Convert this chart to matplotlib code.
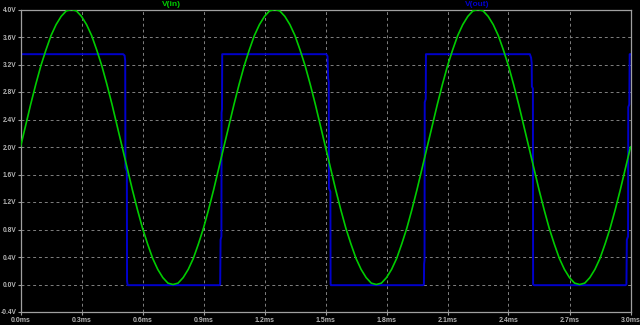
# LTspice style transient plot: V(in) sine and V(out) comparator output
import matplotlib.pyplot as plt
import numpy as np

# V(in) sampled every 0.025 ms from 0 to 3.0 ms
vin_step_ms = 0.025
vin = [2.00, 2.31, 2.62, 2.91, 3.18, 3.41, 3.62, 3.78, 3.90, 3.98,
       4.00, 3.98, 3.90, 3.78, 3.62, 3.41, 3.18, 2.91, 2.62, 2.31,
       2.00, 1.69, 1.38, 1.09, 0.82, 0.59, 0.38, 0.22, 0.10, 0.02,
       0.00, 0.02, 0.10, 0.22, 0.38, 0.59, 0.82, 1.09, 1.38, 1.69,
       2.00, 2.31, 2.62, 2.91, 3.18, 3.41, 3.62, 3.78, 3.90, 3.98,
       4.00, 3.98, 3.90, 3.78, 3.62, 3.41, 3.18, 2.91, 2.62, 2.31,
       2.00, 1.69, 1.38, 1.09, 0.82, 0.59, 0.38, 0.22, 0.10, 0.02,
       0.00, 0.02, 0.10, 0.22, 0.38, 0.59, 0.82, 1.09, 1.38, 1.69,
       2.00, 2.31, 2.62, 2.91, 3.18, 3.41, 3.62, 3.78, 3.90, 3.98,
       4.00, 3.98, 3.90, 3.78, 3.62, 3.41, 3.18, 2.91, 2.62, 2.31,
       2.00, 1.69, 1.38, 1.09, 0.82, 0.59, 0.38, 0.22, 0.10, 0.02,
       0.00, 0.02, 0.10, 0.22, 0.38, 0.59, 0.82, 1.09, 1.38, 1.69,
       2.00]

# V(out) breakpoints (time in ms, volts)
vout_t = [0.000,
          0.505, 0.512, 0.515, 0.516, 0.523, 0.524, 0.527,
          0.978, 0.982, 0.984, 0.988, 0.989, 0.991, 0.992,
          1.504, 1.510, 1.513, 1.516, 1.517, 1.524, 1.525, 1.527,
          1.980, 1.984, 1.985, 1.987, 1.988, 1.993, 1.994,
          2.505, 2.511, 2.514, 2.515, 2.520, 2.521, 2.526,
          2.975, 2.980, 2.982, 2.988, 2.989, 2.994, 2.996, 3.000]
vout = [3.35,
        3.35, 3.33, 3.25, 1.70, 1.65, 0.05, -0.01,
        -0.01, 0.00, 0.65, 0.70, 2.50, 2.55, 3.35,
        3.35, 3.32, 3.00, 2.95, 1.40, 1.35, 0.00, -0.01,
        -0.01, 0.00, 0.30, 0.35, 2.65, 2.70, 3.35,
        3.35, 3.30, 3.22, 2.88, 2.85, 0.00, -0.01,
        -0.01, 0.00, 0.65, 0.70, 2.58, 2.62, 3.35, 3.35]

y_ticks = [-0.4, 0.0, 0.4, 0.8, 1.2, 1.6, 2.0, 2.4, 2.8, 3.2, 3.6, 4.0]
x_ticks = [0.0, 0.3, 0.6, 0.9, 1.2, 1.5, 1.8, 2.1, 2.4, 2.7, 3.0]

GREEN = '#00cc00'
BLUE = '#0000cc'
GREY = '#a0a0a0'
FONT = 'Liberation Sans'

fig = plt.figure(figsize=(6.4, 3.25), dpi=100, facecolor='black')
ax = fig.add_axes([20.5 / 640, 1 - 312 / 325, 610 / 640, (312 - 9.5) / 325])
ax.set_facecolor('black')

vin_t = np.arange(len(vin)) * vin_step_ms
ax.plot(vin_t, vin, color=GREEN, lw=1.2, zorder=3)
ax.plot(vout_t, vout, color=BLUE, lw=1.4, zorder=2)

ax.set_xlim(0, 3.0)
ax.set_ylim(-0.4, 4.0)
ax.set_xticks(x_ticks)
ax.set_yticks(y_ticks)
ax.set_xticklabels(['%.1fms' % t for t in x_ticks])
ax.set_yticklabels(['%.1fV' % v for v in y_ticks])
ax.tick_params(colors=GREY, length=2.5, width=0.8)
ax.tick_params(axis='x', pad=1.2, labelsize=5)
ax.tick_params(axis='y', pad=0.6, labelsize=4.8)
for lab in ax.get_xticklabels() + ax.get_yticklabels():
    lab.set_fontweight('bold')
    lab.set_fontfamily(FONT)
    lab.set_color('#b4b4b4')

ax.grid(True, color='#808080', lw=0.7, linestyle=(0, (3, 3)))
for sp in ax.spines.values():
    sp.set_color(GREY)
    sp.set_linewidth(0.9)

fig.text(171 / 640, 1 - 4.5 / 325, 'V(in)', color=GREEN, fontsize=6,
         fontweight='bold', family=FONT, ha='center', va='center')
fig.text(477 / 640, 1 - 4.5 / 325, 'V(out)', color=BLUE, fontsize=6,
         fontweight='bold', family=FONT, ha='center', va='center')

plt.savefig('out.png', dpi=100, facecolor='black')
